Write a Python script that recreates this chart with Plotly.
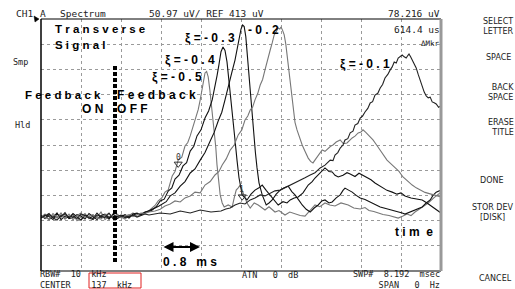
import plotly.graph_objects as go

# ---------------- data (x: screen divisions, 0.8192 ms/div ; y: screen divisions) -------------
BASE_X = [0.0, 0.1, 0.2, 0.3, 0.4, 0.5, 0.6, 0.7, 0.8, 0.9, 1.0, 1.1, 1.2, 1.3,
          1.4, 1.5, 1.6, 1.7, 1.8, 1.9, 2.0, 2.1, 2.2, 2.3, 2.4, 2.5, 2.6, 2.7]

base_a = [2.14, 2.26, 2.02, 2.20, 2.10, 2.30, 2.06, 2.18, 2.24, 2.00, 2.16, 2.28, 2.08, 2.22,
          2.12, 2.34, 2.04, 2.18, 2.10, 2.26, 2.14, 2.06, 2.20, 2.30, 2.16, 2.24, 2.32, 2.38]
base_b = [2.20, 2.08, 2.24, 2.12, 2.30, 2.04, 2.18, 2.10, 2.28, 2.14, 2.02, 2.22, 2.16, 2.08,
          2.30, 2.12, 2.20, 2.06, 2.26, 2.14, 2.22, 2.18, 2.10, 2.26, 2.30, 2.22, 2.34, 2.36]
base_c = [2.10, 2.22, 2.16, 2.04, 2.26, 2.14, 2.32, 2.08, 2.12, 2.24, 2.18, 2.06, 2.28, 2.16,
          2.04, 2.20, 2.26, 2.12, 2.18, 2.08, 2.16, 2.24, 2.14, 2.20, 2.28, 2.26, 2.32, 2.40]
base_d = [2.18, 2.12, 2.06, 2.28, 2.14, 2.22, 2.10, 2.26, 2.04, 2.20, 2.30, 2.12, 2.18, 2.24,
          2.10, 2.06, 2.22, 2.28, 2.14, 2.20, 2.12, 2.18, 2.24, 2.16, 2.22, 2.30, 2.28, 2.34]
base_e = [2.12, 2.18, 2.28, 2.10, 2.02, 2.20, 2.24, 2.14, 2.18, 2.08, 2.26, 2.20, 2.10, 2.04,
          2.22, 2.18, 2.12, 2.30, 2.08, 2.16, 2.20, 2.12, 2.18, 2.22, 2.14, 2.20, 2.26, 2.22]

# xi = -0.5
a_x = [2.75, 2.85, 2.93, 3.02, 3.10, 3.18, 3.28, 3.35, 3.43, 3.52, 3.60, 3.67, 3.73, 3.80, 3.88,
       3.93, 3.98, 4.03, 4.07, 4.10, 4.14, 4.18, 4.22, 4.25, 4.29, 4.33, 4.37, 4.40, 4.44, 4.48,
       4.53, 4.58, 4.68, 4.78, 4.83, 4.88, 4.93, 4.98, 5.03, 5.08, 5.15, 5.23, 5.33, 5.43, 5.52,
       5.60, 5.70, 5.85, 5.95, 6.10, 6.22, 6.35, 6.48, 6.60, 6.72, 6.85, 6.97, 7.10, 7.22, 7.35,
       7.50, 7.68, 7.82, 7.98, 8.10, 8.20, 8.32, 8.43, 8.55, 8.70, 8.82, 8.93, 9.05, 9.15, 9.25,
       9.35, 9.50, 9.68, 9.82, 10.0]
a_y = [2.46, 2.60, 2.78, 2.90, 3.13, 3.22, 3.77, 3.95, 4.40, 4.52, 4.96, 5.10, 5.36, 5.70, 6.15,
       6.40, 6.79, 7.30, 7.55, 7.86, 7.92, 7.70, 7.20, 6.79, 6.10, 5.60, 4.90, 4.21, 3.60, 3.02,
       2.70, 2.54, 2.62, 2.54, 2.90, 3.21, 3.30, 3.41, 3.20, 3.02, 2.70, 2.50, 2.70, 2.62, 2.50,
       2.42, 2.55, 2.34, 2.40, 2.22, 2.34, 2.26, 2.20, 2.18, 2.40, 2.62, 2.55, 2.70, 2.62, 2.58,
       2.70, 2.62, 2.50, 2.46, 2.52, 2.40, 2.36, 2.30, 2.24, 2.20, 2.14, 2.10, 2.18, 2.26, 2.20,
       2.34, 2.50, 2.70, 2.90, 3.13]

# xi = -0.4
b_x = [2.78, 2.88, 2.98, 3.08, 3.18, 3.27, 3.35, 3.45, 3.55, 3.64, 3.73, 3.82, 3.90, 4.00, 4.10,
       4.19, 4.28, 4.34, 4.40, 4.45, 4.50, 4.55, 4.60, 4.65, 4.70, 4.75, 4.80, 4.85, 4.90, 4.95,
       5.03, 5.10, 5.15, 5.25, 5.35, 5.45, 5.53, 5.63, 5.73, 5.83, 5.93, 6.05, 6.15, 6.23, 6.33,
       6.43, 6.55, 6.68, 6.78, 6.85, 6.95, 7.03, 7.10, 7.20, 7.28, 7.35, 7.43, 7.55, 7.65, 7.73,
       7.85, 7.95, 8.03, 8.15, 8.25, 8.35, 8.45, 8.55, 8.65, 8.78, 8.90, 9.00, 9.10, 9.25, 9.40,
       9.53, 9.65, 9.78, 9.90, 10.0]
b_y = [2.42, 2.55, 2.78, 2.85, 3.17, 3.30, 3.65, 3.80, 4.17, 4.30, 4.76, 4.95, 5.36, 5.60, 6.07,
       6.35, 6.79, 7.20, 7.74, 8.20, 8.70, 8.89, 8.75, 8.30, 7.58, 6.90, 6.10, 5.20, 4.40, 3.70,
       3.02, 2.90, 2.82, 3.05, 3.21, 3.30, 3.41, 3.20, 3.02, 2.80, 2.62, 2.75, 2.70, 2.82, 2.90,
       2.94, 3.10, 3.41, 3.55, 3.69, 3.85, 4.00, 4.09, 3.95, 3.93, 3.80, 3.73, 3.80, 3.90, 3.85,
       3.75, 3.88, 3.81, 3.70, 3.62, 3.49, 3.40, 3.30, 3.20, 3.13, 3.05, 3.10, 2.98, 2.90, 2.86,
       2.82, 2.70, 2.55, 2.40, 2.30]

# xi = -0.3
c_x = [2.85, 2.95, 3.03, 3.13, 3.23, 3.35, 3.48, 3.60, 3.73, 3.85, 3.98, 4.10, 4.23, 4.33, 4.43,
       4.52, 4.60, 4.67, 4.73, 4.79, 4.85, 4.90, 4.95, 5.00, 5.04, 5.08, 5.12, 5.16, 5.20, 5.24,
       5.28, 5.32, 5.36, 5.40, 5.45, 5.53, 5.63, 5.70, 5.78, 5.88, 5.98, 6.08, 6.18, 6.27, 6.35,
       6.45, 6.53, 6.63, 6.73, 6.83, 6.93, 7.02, 7.10, 7.20, 7.28, 7.38, 7.48, 7.55, 7.60, 7.70,
       7.78, 7.88, 7.98, 8.10, 8.23, 8.35, 8.48, 8.62, 8.78, 8.92, 9.03, 9.10, 9.22, 9.35, 9.45,
       9.53, 9.63, 9.73, 9.80, 9.88, 10.0]
c_y = [2.50, 2.58, 2.66, 2.75, 2.98, 3.10, 3.37, 3.55, 3.89, 4.05, 4.40, 4.70, 5.16, 5.50, 5.95,
       6.30, 6.79, 7.20, 7.58, 8.00, 8.37, 8.80, 9.17, 9.60, 9.76, 9.70, 9.30, 8.50, 7.60, 6.80,
       5.99, 5.30, 4.70, 4.10, 3.50, 3.02, 2.62, 2.70, 2.82, 3.05, 3.21, 3.30, 3.37, 3.15, 3.02,
       2.80, 2.62, 2.45, 2.34, 2.50, 2.62, 2.78, 2.82, 2.70, 2.74, 2.90, 3.02, 3.20, 3.29, 3.20,
       3.13, 3.00, 2.90, 2.84, 2.74, 2.62, 2.54, 2.48, 2.42, 2.36, 2.30, 2.26, 2.34, 2.42, 2.50,
       2.54, 2.70, 2.82, 3.00, 3.13, 3.21]

# xi = -0.2
d_x = [2.85, 2.98, 3.10, 3.23, 3.35, 3.48, 3.60, 3.73, 3.85, 3.98, 4.10, 4.23, 4.35, 4.45, 4.53,
       4.63, 4.73, 4.83, 4.93, 5.02, 5.10, 5.17, 5.23, 5.29, 5.35, 5.42, 5.48, 5.54, 5.60, 5.67,
       5.73, 5.78, 5.83, 5.88, 5.93, 5.97, 6.00, 6.04, 6.08, 6.12, 6.15, 6.19, 6.23, 6.27, 6.30,
       6.35, 6.40, 6.47, 6.53, 6.60, 6.68, 6.74, 6.80, 6.87, 6.93, 6.98, 7.03, 7.10, 7.18, 7.24,
       7.30, 7.38, 7.48, 7.56, 7.65, 7.72, 7.78, 7.85, 7.93, 8.00, 8.05, 8.12, 8.18, 8.24, 8.30,
       8.39, 8.48, 8.56, 8.65, 8.75, 8.85, 8.95, 9.05, 9.17, 9.28, 9.38, 9.48, 9.60, 9.73, 9.85,
       10.0]
d_y = [2.38, 2.45, 2.58, 2.66, 2.78, 2.74, 2.90, 2.98, 3.13, 3.10, 3.41, 3.55, 3.81, 3.95, 4.21,
       4.45, 4.80, 5.00, 5.40, 5.60, 5.99, 6.15, 6.39, 6.50, 6.79, 7.05, 7.38, 7.60, 7.98, 8.35,
       8.77, 9.05, 9.37, 9.50, 9.64, 9.60, 9.68, 9.55, 9.37, 9.00, 8.57, 8.00, 7.38, 6.80, 6.39,
       5.90, 5.60, 5.25, 5.00, 4.75, 4.48, 4.35, 4.29, 4.45, 4.60, 4.70, 4.80, 4.75, 4.88, 4.95,
       5.00, 5.12, 5.20, 5.05, 5.08, 5.20, 5.28, 5.35, 5.48, 5.52, 5.60, 5.50, 5.40, 5.30, 5.20,
       5.00, 4.80, 4.62, 4.40, 4.25, 4.09, 3.95, 3.73, 3.55, 3.41, 3.30, 3.21, 3.12, 3.06, 3.00,
       2.94]

# xi = -0.1
e_x = [2.98, 3.23, 3.48, 3.73, 3.98, 4.25, 4.50, 4.62, 4.73, 4.85, 4.98, 5.10, 5.23, 5.35, 5.48,
       5.60, 5.73, 5.85, 5.98, 6.10, 6.23, 6.35, 6.48, 6.60, 6.73, 6.85, 6.98, 7.10, 7.23, 7.30,
       7.35, 7.42, 7.48, 7.55, 7.60, 7.67, 7.73, 7.80, 7.85, 7.92, 7.98, 8.04, 8.10, 8.17, 8.23,
       8.29, 8.35, 8.42, 8.48, 8.54, 8.60, 8.67, 8.73, 8.78, 8.83, 8.88, 8.93, 8.98, 9.03, 9.08,
       9.13, 9.17, 9.20, 9.24, 9.28, 9.33, 9.38, 9.43, 9.48, 9.53, 9.58, 9.63, 9.68, 9.73, 9.78,
       9.83, 9.88, 9.94, 10.0]
e_y = [2.30, 2.26, 2.38, 2.30, 2.42, 2.34, 2.38, 2.46, 2.50, 2.62, 2.70, 2.66, 2.82, 2.90, 3.02,
       2.98, 3.10, 3.18, 3.21, 3.30, 3.41, 3.48, 3.61, 3.70, 3.81, 3.90, 4.09, 4.20, 4.40, 4.38,
       4.60, 4.70, 4.88, 5.00, 5.20, 5.25, 5.48, 5.55, 5.79, 5.85, 6.07, 6.15, 6.31, 6.45, 6.67,
       6.72, 6.98, 7.05, 7.26, 7.40, 7.66, 7.80, 7.98, 8.10, 8.29, 8.25, 8.45, 8.50, 8.57, 8.50,
       8.45, 8.55, 8.61, 8.50, 8.37, 8.25, 8.06, 7.80, 7.58, 7.30, 7.10, 6.95, 6.87, 6.90, 6.71,
       6.68, 6.63, 6.50, 6.55]

SERIES = [
    ("xi=-0.5", base_a, a_x, a_y, "#777777"),
    ("xi=-0.4", base_b, b_x, b_y, "#111111"),
    ("xi=-0.3", base_c, c_x, c_y, "#111111"),
    ("xi=-0.2", base_d, d_x, d_y, "#777777"),
    ("xi=-0.1", base_e, e_x, e_y, "#222222"),
]

# ---------------- figure ----------------
W, H = 515, 289
L, R, T, B = 41, 441, 19, 271
MONO = "DejaVu Sans Mono"
SANS = "Liberation Sans"

fig = go.Figure()
for name, base, xs, ys, col in SERIES:
    n = min(len(xs), len(ys))
    fig.add_trace(go.Scatter(x=BASE_X + xs[:n], y=base + ys[:n], mode="lines", name=name,
                             line=dict(color=col, width=1.1), showlegend=False))

# marker triangles
fig.add_trace(go.Scatter(x=[3.43, 5.03], y=[4.25, 2.95], mode="markers",
                         marker=dict(symbol="triangle-down-open", size=7,
                                     color="#333", line=dict(width=1)),
                         showlegend=False, cliponaxis=False))


def px(x):
    return (x - L) / (R - L)


def py(y):
    return (B - y) / (B - T)


ann = []


def txt(s, x, y, size=9, anchor="left", family=MONO, color="#222", align=None):
    d = dict(text=s, x=px(x), y=py(y), xref="paper", yref="paper",
             xanchor=anchor, yanchor="middle", showarrow=False,
             font=dict(family=family, size=size, color=color))
    if align:
        d["align"] = align
    ann.append(d)


# header
txt("CH1", 14, 13, 9.5)
txt("A", 38, 13, 9.5)
txt("Spectrum", 58, 13, 9.5)
txt("50.97 uV/ REF 413 uV", 147, 13, 9.5)
txt("78.216 uV", 442, 13, 9.5, anchor="right")
txt("614.4 us", 442, 30, 9.5, anchor="right")
txt("\u0394Mkr", 442, 43, 7.5, anchor="right")
txt("Smp", 11, 62, 8.5)
txt("Hld", 13, 125, 8.5)

# soft keys
SK = "DejaVu Sans"
txt("SELECT<br>LETTER", 516, 26, 8, anchor="right", family=SK, align="right")
txt("SPACE", 513, 57, 8, anchor="right", family=SK)
txt("BACK<br>SPACE", 516, 93, 8, anchor="right", family=SK, align="right")
txt("ERASE<br>TITLE", 516, 127, 8, anchor="right", family=SK, align="right")
txt("DONE", 506, 180, 8, anchor="right", family=SK)
txt("STOR DEV<br>[DISK]", 516, 212, 8, anchor="right", family=SK, align="center")
txt("CANCEL", 514, 278, 8, anchor="right", family=SK)

# footer (two-line blocks)
txt("RBW#  10  kHz<br>CENTER    137  kHz", 38, 279.5, 8.5, align="left")
txt("ATN   0  dB", 240, 275, 8.5)
txt("SWP#  8.192  msec<br>SPAN   0  Hz", 442, 279.5, 8.5, anchor="right", align="right")


# bold labels
def lab(s, x, y, size=12):
    txt("<b>" + s + "</b>", x, y, size, family=SANS, color="#000")


lab("T r a n s v e r s e", 53, 29, 11.5)
lab("S i g n a l", 53, 45, 11.5)
lab("\u03be = - 0 . 3", 183, 38)
lab("- 0 . 2", 246, 30)
lab("\u03be = - 0 . 4", 163, 60)
lab("\u03be = - 0 . 5", 150, 77)
lab("\u03be = - 0 . 1", 338, 64)
lab("F e e d b a c k", 23, 95, 11.5)
lab("F e e d b a c k", 115, 95)
lab("O N", 80, 109)
lab("O F F", 115, 109)
lab("0 . 8   m s", 161, 262)
lab("t i m  e", 393, 232)

# marker numbers
txt("0", 178, 157, 8, anchor="center", color="#333")
txt("1", 242, 189, 8, anchor="center", color="#333")

# double arrow 0.8 ms
ann.append(dict(x=3.975, y=0.95, ax=3.025, ay=0.95, xref="x", yref="y", axref="x", ayref="y",
                text="", showarrow=True, arrowhead=2, arrowside="end+start",
                arrowsize=1, arrowwidth=2, arrowcolor="#000"))

shapes = []
# frame
shapes.append(dict(type="line", xref="paper", yref="paper", x0=0, x1=1, y0=1, y1=1,
                   line=dict(color="#000", width=1)))
shapes.append(dict(type="line", xref="paper", yref="paper", x0=0, x1=1, y0=0, y1=0,
                   line=dict(color="#000", width=1)))
shapes.append(dict(type="line", xref="paper", yref="paper", x0=0, x1=0, y0=0, y1=1,
                   line=dict(color="#000", width=1.5)))
shapes.append(dict(type="line", xref="paper", yref="paper", x0=1, x1=1, y0=0, y1=1,
                   line=dict(color="#999", width=3)))
# feedback switch line
shapes.append(dict(type="line", xref="x", yref="y", x0=1.85, x1=1.85, y0=0.36, y1=8.17,
                   line=dict(color="#000", width=4, dash="4px,2px")))
# red box around center frequency
shapes.append(dict(type="rect", xref="paper", yref="paper", x0=px(89), x1=px(141),
                   y0=py(288), y1=py(273), line=dict(color="#e02020", width=1)))
# small pointer top-left
shapes.append(dict(type="path", xref="paper", yref="paper",
                   path="M %f %f L %f %f L %f %f Z" % (px(34), py(16), px(39), py(19), px(35), py(22)),
                   fillcolor="#000", line=dict(color="#000", width=0.5)))

fig.update_layout(
    width=W, height=H,
    margin=dict(l=L, r=W - R, t=T, b=H - B, pad=0),
    paper_bgcolor="white", plot_bgcolor="white",
    showlegend=False,
    xaxis=dict(range=[0, 10], dtick=1, tick0=0, showgrid=True, gridcolor="#9a9a9a",
               griddash="dot", gridwidth=1, zeroline=False, showticklabels=False,
               ticks="", showline=False, fixedrange=True),
    yaxis=dict(range=[0, 10], dtick=1, tick0=0, showgrid=True, gridcolor="#9a9a9a",
               griddash="dot", gridwidth=1, zeroline=False, showticklabels=False,
               ticks="", showline=False, fixedrange=True),
    annotations=ann,
    shapes=shapes,
)

fig.write_html("out.html", config={"displayModeBar": False, "staticPlot": True},
               post_script="document.body.style.margin='0';document.body.style.overflow='hidden';")
